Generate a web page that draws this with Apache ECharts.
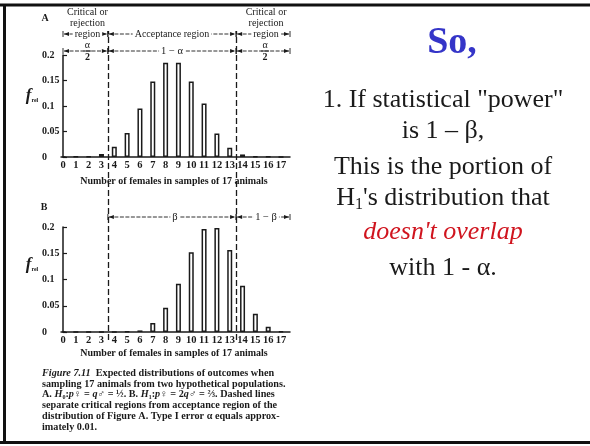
<!DOCTYPE html>
<html><head><meta charset="utf-8">
<script src="https://cdn.jsdelivr.net/npm/echarts@6/dist/echarts.min.js"></script>
<style>html,body{margin:0;padding:0;background:#fff}#c{width:590px;height:446px}</style>
</head><body><div id="c"></div>
<script>
// ---- data ----
const categories = [0,1,2,3,4,5,6,7,8,9,10,11,12,13,14,15,16,17];
const valuesA = [0, 0.0005, 0.001, 0.006, 0.02, 0.047, 0.095, 0.148, 0.185, 0.185, 0.148, 0.105, 0.046, 0.018, 0.005, 0.001, 0.0005, 0];
const valuesB = [0, 0, 0, 0, 0.0002, 0.0008, 0.003, 0.017, 0.046, 0.092, 0.152, 0.196, 0.198, 0.156, 0.088, 0.035, 0.01, 0.0012];
const yTickLabels = ['0', '0.05', '0.1', '0.15', '0.2'];
const boundaries = [3.5, 13.5];
const xTitle = 'Number of females in samples of 17 animals';
const captionLines = [
  '{b|Figure 7.11}  Expected distributions of outcomes when',
  'sampling 17 animals from two hypothetical populations.',
  '{n|A.} {i|H}₀:{i|p}♀ = {i|q}♂ = ½. {n|B.} {i|H}₁:{i|p}♀ = 2{i|q}♂ = ⅔. Dashed lines',
  'separate critical regions from acceptance region of the',
  'distribution of Figure A. Type I error α equals approx-',
  'imately 0.01.'
];
const XMAX = 17.7;

const SERIF = '"Liberation Serif", "Times New Roman", serif';
const ink = '#1a1a1a';
const chart = echarts.init(document.getElementById('c'), null, {renderer: 'canvas'});

function xAxisCfg(i, show) {
  return {
    type: 'value', gridIndex: i, min: 0, max: XMAX, interval: 1, show: show,
    axisLine: {show: true, onZero: false, lineStyle: {color: ink, width: 1.5}},
    axisTick: {show: false},
    splitLine: {show: false},
    axisLabel: {
      margin: 3, color: ink, fontFamily: SERIF, fontWeight: 'bold', fontSize: 10.5,
      formatter: v => Number.isInteger(v) ? String(categories[v]) : ''
    }
  };
}
function yAxisCfg(i) {
  return {
    type: 'value', gridIndex: i, min: 0, max: 0.2, interval: 0.05,
    axisLine: {show: true, lineStyle: {color: ink, width: 1.5}},
    axisTick: {show: true, inside: true, length: 4, lineStyle: {color: ink, width: 1.2}},
    splitLine: {show: false},
    axisLabel: {
      align: 'left', margin: 21, color: ink, fontFamily: SERIF, fontWeight: 'bold', fontSize: 10,
      formatter: v => yTickLabels[Math.round(v / 0.05)]
    }
  };
}
const barStyle = {color: '#ffffff', borderColor: ink, borderWidth: 1.5};

chart.setOption({
  animation: false,
  backgroundColor: '#fff',
  grid: [
    {left: 63, top: 55, width: 227, height: 102},
    {left: 63, top: 227, width: 227, height: 105},
    {left: 63, top: 31, width: 227, height: 309}
  ],
  xAxis: [xAxisCfg(0, true), xAxisCfg(1, true), xAxisCfg(2, false)],
  yAxis: [yAxisCfg(0), yAxisCfg(1), {type: 'value', gridIndex: 2, min: 0, max: 1, show: false}],
  series: [
    {type: 'bar', xAxisIndex: 0, yAxisIndex: 0, barWidth: 5, itemStyle: barStyle,
     data: categories.map((c, i) => [c, valuesA[i]])},
    {type: 'bar', xAxisIndex: 1, yAxisIndex: 1, barWidth: 5, itemStyle: barStyle,
     data: categories.map((c, i) => [c, valuesB[i]])},
    {type: 'line', xAxisIndex: 2, yAxisIndex: 2, data: [], silent: true,
     markLine: {silent: true, symbol: ['none', 'none'], label: {show: false},
       lineStyle: {type: [6, 3], color: ink, width: 1.3},
       data: boundaries.map(b => ({xAxis: b}))}}
  ]
});

// pixel helpers via the axis scale
const px = v => chart.convertToPixel({gridIndex: 2}, [v, 0])[0];
const x0 = px(0), xL = px(boundaries[0]), xR = px(boundaries[1]), xE = px(XMAX);

const g = [];
function txt(text, x, y, size, opts) {
  opts = opts || {};
  g.push({type: 'text', z: 10, style: Object.assign({
    text: text, x: x, y: y, fill: ink, fontFamily: SERIF, fontSize: size,
    fontWeight: opts.weight || 'normal', fontStyle: opts.style || 'normal',
    align: opts.align || 'center', verticalAlign: 'middle'
  }, opts.extra || {})});
}
function arrowHead(x, y, dir) {
  g.push({type: 'polygon', z: 9, shape: {points: [[x, y], [x - dir * 5, y - 2], [x - dir * 5, y + 2]]}, style: {fill: ink}});
}
function seg(x1, x2, y) {
  g.push({type: 'line', z: 8, shape: {x1: x1 + 1, y1: y, x2: x2 - 1, y2: y}, style: {stroke: ink, lineWidth: 0.9, lineDash: [4, 1.5]}});
  arrowHead(x1 + 1, y, -1);
  arrowHead(x2 - 1, y, 1);
  g.push({type: 'line', z: 8, shape: {x1: x1, y1: y - 3, x2: x1, y2: y + 3}, style: {stroke: ink, lineWidth: 0.9}});
  g.push({type: 'line', z: 8, shape: {x1: x2, y1: y - 3, x2: x2, y2: y + 3}, style: {stroke: ink, lineWidth: 0.9}});
}
const bg = {backgroundColor: '#fff', padding: [0, 2]};

// borders
g.push({type: 'rect', shape: {x: 0, y: 3.5, width: 590, height: 3}, style: {fill: '#111'}});
g.push({type: 'rect', shape: {x: 0, y: 441, width: 590, height: 3}, style: {fill: '#111'}});
g.push({type: 'rect', shape: {x: 3, y: 4, width: 3, height: 440}, style: {fill: '#111'}});

// panel letters
txt('A', 45, 18, 10, {weight: 'bold'});
txt('B', 44, 207, 10, {weight: 'bold'});

// region labels
const midL = (x0 + xL) / 2 + 2, midR = (xR + xE) / 2 + 2;
txt('Critical or', midL, 12, 10);
txt('rejection', midL, 23, 10);
txt('Critical or', midR + 1, 12, 10);
txt('rejection', midR + 1, 23, 10);
seg(x0, xL, 34); seg(xL, xR, 34); seg(xR, xE, 34);
txt('region', midL, 34, 10, {extra: bg});
txt('Acceptance region', 172, 34, 10, {extra: bg});
txt('region', midR + 1, 34, 10, {extra: bg});
// second row
seg(x0, xL, 51); seg(xL, xR, 51); seg(xR, xE, 51);
txt('α', midL, 45, 10, {extra: {backgroundColor: '#fff', padding: [0, 2, -1, 2]}});
txt('2', midL, 57, 10, {weight: 'bold', extra: {backgroundColor: '#fff', padding: [-1, 2, 0, 2]}});
g.push({type: 'line', z: 11, shape: {x1: midL - 4, y1: 51, x2: midL + 4, y2: 51}, style: {stroke: ink, lineWidth: 0.9}});
txt('1 − α', 172, 51, 10.5, {extra: bg});
txt('α', midR, 45, 10, {extra: {backgroundColor: '#fff', padding: [0, 2, -1, 2]}});
txt('2', midR, 57, 10, {weight: 'bold', extra: {backgroundColor: '#fff', padding: [-1, 2, 0, 2]}});
g.push({type: 'line', z: 11, shape: {x1: midR - 4, y1: 51, x2: midR + 4, y2: 51}, style: {stroke: ink, lineWidth: 0.9}});
// B row
seg(xL, xR, 217); seg(xR, xE, 217);
txt('β', 175, 217, 10.5, {extra: bg});
txt('1 − β', midR + 1, 217, 10.5, {extra: bg});

// y axis titles
const yl = {rich: {f: {fontFamily: SERIF, fontStyle: 'italic', fontWeight: 'bold', fontSize: 17, fill: ink},
                   s: {fontFamily: SERIF, fontSize: 6, fontWeight: 'bold', fill: ink, padding: [9, 0, 0, 0]}}};
txt('{f|f}{s|rel}', 32, 96, 17, {extra: yl});
txt('{f|f}{s|rel}', 32, 265, 17, {extra: yl});

// x titles
txt(xTitle, 174, 181, 10, {weight: 'bold'});
txt(xTitle, 174, 353, 10, {weight: 'bold'});

// caption
const CAP = 10.2;
const capRich = {rich: {
  b: {fontFamily: SERIF, fontStyle: 'italic', fontWeight: 'bold', fontSize: CAP, fill: ink},
  n: {fontFamily: SERIF, fontWeight: 'bold', fontSize: CAP, fill: ink},
  i: {fontFamily: SERIF, fontStyle: 'italic', fontWeight: 'bold', fontSize: CAP, fill: ink}
}};
captionLines.forEach((line, k) => {
  txt(line, 42, 373 + k * 10.9, CAP, {align: 'left', weight: 'bold', extra: capRich});
});

// right side text
txt('So,', 452, 43, 38, {weight: 'bold', extra: {fill: '#3535c8'}});
txt('1. If statistical "power"', 443, 100, 26);
txt('is 1 – β,', 443, 131, 26);
txt('This is the portion of', 443, 167, 26);
txt('H{sub|1}\'s distribution that', 443, 198, 26, {extra: {rich: {sub: {fontFamily: SERIF, fontSize: 16, fill: ink, padding: [14, 0, 0, 0]}}}});
txt('doesn\'t overlap', 443, 232, 26, {style: 'italic', extra: {fill: '#d0141e'}});
txt('with 1 - α.', 443, 268, 26);

chart.setOption({graphic: g});
</script></body></html>
